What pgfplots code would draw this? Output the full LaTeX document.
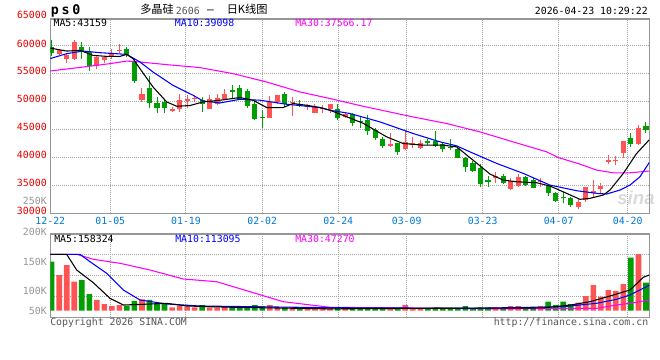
\documentclass[border=0pt]{standalone}
\usepackage{pgfplots}
\pgfplotsset{compat=1.18}
\usepackage{pgfplotstable}
\usepackage{fontspec}
\setmainfont{DejaVu Sans Mono}
\newfontfamily\cjk{Noto Sans CJK SC}
\newfontfamily\sinafont{Liberation Sans}
\definecolor{cred}{RGB}{255,84,84}
\definecolor{cgreen}{RGB}{0,158,0}
\definecolor{cblue}{RGB}{0,0,255}
\definecolor{cmag}{RGB}{255,0,255}
\definecolor{framegray}{RGB}{150,150,150}
\definecolor{dotgray}{RGB}{165,165,165}
\definecolor{lblred}{RGB}{232,0,0}
\definecolor{lblblue}{RGB}{0,120,215}
\definecolor{volgray}{RGB}{150,150,150}
\definecolor{txtgray}{RGB}{85,85,85}
\definecolor{wmgray}{RGB}{218,218,218}

% red (rising) candles: index open high low close
\pgfplotstableread{
i o h l c
1 58500 59400 58300 59200
2 57700 58600 56900 58300
3 57600 61000 57400 60700
6 56400 58200 55800 57900
7 57400 58200 56900 57900
8 58200 59400 57700 58700
9 59000 60300 58700 59300
12 50300 52400 49900 51300
16 48400 49100 48100 48600
17 48600 51300 48100 50200
18 50100 51100 48900 50500
19 50400 51100 50000 50600
21 48700 51100 48600 50400
22 49600 51400 49300 50700
23 50400 52200 50200 51300
29 47100 51000 47100 49900
30 49900 51100 49500 51100
32 49700 50800 47400 49800
34 49000 49600 48500 49300
35 48000 49600 47900 49000
36 48700 49300 47900 48900
37 48700 49500 47900 49500
39 47200 48000 47000 47700
45 42020 44290 41900 42320
47 41430 44750 41310 42790
48 42250 43680 41610 42500
49 41610 43090 41430 42610
59 36360 37430 35470 36720
61 34340 36360 34160 35770
62 34880 36970 34750 36540
65 35540 36250 34750 35820
70 31070 32500 30710 32070
71 32380 34640 32070 34640
72 33570 35950 32860 33980
73 34290 35360 33680 34880
74 39220 40410 38800 39520
75 39340 40230 38630 39520
76 40820 42910 39820 42910
78 42380 45770 42200 45180
}\redtab

% green (falling) candles: index open high low close
\pgfplotstableread{
i o h l c
0 59800 61100 58200 58700
4 59800 60700 57600 59000
5 58900 59800 55500 56400
10 59400 59800 57900 58300
11 57100 57700 53400 53600
13 52400 54600 48800 49700
14 49700 50900 47900 48900
15 49900 50500 48000 48900
20 50200 50800 48100 49600
24 52000 52900 50400 51700
25 52500 53000 50300 50400
26 51900 52300 48900 49200
27 49600 50200 46700 46900
28 47300 48500 45200 47000
31 51400 51800 49000 49500
33 49600 50200 49000 49300
38 48600 49500 46700 47000
40 47700 48000 45600 46200
41 46500 47300 45200 46300
42 46660 47560 43980 44750
43 45000 45180 43090 43400
44 43220 43680 41610 42020
46 42500 42600 40410 41000
50 42910 43220 42200 42610
51 42910 44750 41790 42020
52 42320 42790 41000 41430
53 41890 43220 41310 41610
54 41430 41790 39820 39930
55 39820 40110 37430 38320
56 38930 39340 37430 37550
57 38040 38750 34750 35180
58 35950 36720 34750 35640
60 36720 36970 35180 35360
63 36540 36720 34950 35050
64 35950 36250 34470 34570
66 34880 35050 33140 33680
67 33570 33860 32070 32200
68 32960 33860 31790 32680
69 32680 32860 31180 31480
77 43400 44290 41890 42380
79 45590 46360 44390 44880
}\greentab

\pgfplotstableread{
i v
1 158300
2 202700
3 128600
6 47300
7 29500
8 20600
9 25000
12 50400
16 14800
17 22100
18 17700
19 14800
21 14800
22 14800
23 20600
29 25000
30 14800
32 14800
34 10400
35 12000
36 10400
37 14800
39 12000
45 12000
47 25000
48 10400
49 10400
59 14800
61 20600
62 20600
65 20600
70 35300
71 65000
72 113900
73 61900
74 91700
75 87300
76 118300
78 251600
}\redvol

\pgfplotstableread{
i v
0 217400
4 136100
5 73900
10 22100
11 43000
13 47300
14 32600
15 29500
20 25000
24 14800
25 12000
26 20600
27 25000
28 20600
31 14800
33 10400
38 12000
40 12000
41 12000
42 12000
43 12000
44 12000
46 12000
50 10400
51 14800
52 10400
53 10400
54 10400
55 20600
56 10400
57 14800
58 14800
60 12000
63 14800
64 14800
66 39700
67 25000
68 39700
69 29500
77 235200
79 124100
}\greenvol

\pgfplotsset{
  wick/.style={color=#1, draw=none, mark=none, forget plot,
    error bars/.cd, y dir=plus, y explicit, error mark=none,
    error bar style={line width=0.75pt, draw=#1, solid}},
  body/.style={color=#1, draw=none, mark=none, forget plot,
    error bars/.cd, y dir=plus, y explicit, error mark=none,
    error bar style={line width=3.8pt, draw=#1, solid}},
  panel/.style={
    scale only axis, width=449.25pt,
    xmin=-0.186, xmax=79.44,
    axis line style={draw=framegray, line width=0.9pt},
    major tick length=0pt,
    scaled ticks=false,
    xmajorgrids, ymajorgrids,
    major grid style={draw=dotgray, line width=0.75pt, dash pattern=on 0.75pt off 0.75pt},
  },
}

\begin{document}
\begin{tikzpicture}
\path[use as bounding box] (0pt,0pt) rectangle (495pt,-270pt);
\begin{scope}[x=0.75pt,y=-0.75pt]
  \node[text=wmgray, font=\sinafont\bfseries\itshape\fontsize{14}{14}\selectfont, inner sep=0pt] at (636,198) {sina};
\end{scope}

% ---------------- price panel ----------------
\begin{axis}[panel,
  at={(37.725pt,-14.25pt)}, anchor=north west,
  height=145.725pt,
  ymin=30000, ymax=64780,
  xtick={-0.186,7.79,17.85,27.99,38.10,47.19,57.29,67.39,76.57},
  xticklabels={12-22,01-05,01-19,02-02,02-24,03-09,03-23,04-07,04-20},
  ytick={30000,35000,40000,45000,50000,55000,60000},
  yticklabels={30000,35000,40000,45000,50000,55000,60000},
  tick label style={font=\fontsize{7.4}{8}\selectfont, inner sep=0pt},
  xticklabel style={text=lblblue, anchor=north, yshift=-2.55pt},
  yticklabel style={text=lblred, anchor=base east, xshift=-2.5pt, yshift=-1pt},
]
\addplot[wick=cred] table[x=i, y=l, y error expr=\thisrow{h}-\thisrow{l}] {\redtab};
\addplot[body=cred] table[x=i, y=o, y error expr={max(\thisrow{c}-\thisrow{o},200)}] {\redtab};
\addplot[wick=cgreen] table[x=i, y=l, y error expr=\thisrow{h}-\thisrow{l}] {\greentab};
\addplot[body=cgreen] table[x=i, y=c, y error expr={max(\thisrow{o}-\thisrow{c},200)}] {\greentab};

% MA30
\addplot[cmag, line width=0.8pt, forget plot] coordinates {
(-0.23,55470) (4.16,56180) (7.75,56790) (9.97,57250) (11.74,57080) (15.29,56610)
(19.71,56080) (24.1,55000) (28.58,53500) (33.0,51720) (37.0,50540) (41.38,49160)
(48.03,47250) (52.51,46070) (56.93,44570) (61.32,42790) (65.8,41000) (67.3,40000)
(70.23,38800) (72.44,37730) (74.65,37250) (76.87,37250) (79.44,37566)};
% MA10
\addplot[cblue, line width=0.8pt, forget plot] coordinates {
(-0.23,57680) (1.99,58580) (4.16,59040) (6.42,58750) (9.97,58450) (11.74,57080)
(13.47,55290) (16.12,52910) (18.78,51130) (20.11,50110) (22.37,49750) (25.03,50410)
(27.69,50240) (31.24,49520) (35.66,48930) (37.0,48450) (39.65,47860) (43.64,46360)
(48.03,44290) (51.62,42790) (53.84,42070) (55.6,41000) (59.15,38930) (62.69,37140)
(66.24,35050) (69.79,34040) (72.44,33570) (73.77,33450) (75.54,34160) (76.87,35050)
(78.2,36540) (79.44,39098)};
% MA5
\addplot[black, line width=0.8pt, forget plot] coordinates {
(-0.23,59580) (1.99,59040) (3.76,59170) (5.49,58270) (7.31,58090) (9.08,58090)
(9.97,58450) (10.81,57680) (12.14,55110) (13.47,52610) (15.29,49930) (16.62,49160)
(18.38,49290) (20.11,49930) (22.37,50240) (25.03,50720) (26.76,50240) (28.58,48930)
(30.75,48930) (32.07,49650) (33.90,49340) (35.66,48930) (37.0,48450) (41.38,46130)
(44.53,43680) (46.70,42500) (49.35,42200) (52.01,42200) (53.84,41890) (56.0,39520)
(58.27,37020) (60.0,35950) (61.81,35640) (64.47,35470) (66.24,34880) (67.97,33860)
(70.23,32500) (71.56,32680) (73.32,33270) (74.21,34160) (75.98,37140) (77.76,40720)
(79.44,43160)};
\end{axis}

% ---------------- volume panel ----------------
\begin{axis}[panel,
  at={(37.725pt,-175.5pt)}, anchor=north west,
  height=62.475pt,
  ymin=-29573, ymax=340446,
  xtick={7.79,17.85,27.99,38.10,47.19,57.29,67.39,76.57},
  ytick={62932,155437,247941},
  xticklabel=\empty, yticklabel=\empty,
]
\addplot[ybar, bar width=4.2pt, bar shift=0pt, fill=cred, draw=none, forget plot] table[x=i, y=v] {\redvol};
\addplot[ybar, bar width=4.2pt, bar shift=0pt, fill=cgreen, draw=none, forget plot] table[x=i, y=v] {\greenvol};
\addplot[cmag, line width=0.8pt, forget plot] coordinates {
(-0.23,250270) (3.32,250270) (5.53,228060) (9.08,210300) (13.07,180530) (17.49,140560)
(21.93,128560) (26.35,84140) (30.78,39720) (37.0,14850) (59.6,8200) (72.44,10400)
(75.1,25060) (76.87,32610) (79.44,47270)};
\addplot[cblue, line width=0.8pt, forget plot] coordinates {
(-0.23,250270) (3.76,250270) (5.09,217400) (7.31,165870) (9.52,91700) (11.74,47270)
(15.29,29500) (19.71,20620) (37.0,13070) (56,10400) (67.97,17510) (72.44,32610)
(75.1,50380) (76.87,69480) (79.44,113095)};
\addplot[black, line width=0.8pt, forget plot] coordinates {
(-0.23,250270) (1.99,250270) (3.32,180530) (5.53,124120) (7.75,54830) (9.52,25060)
(12.18,28170) (15.29,32610) (17.95,20620) (24.1,14850) (37.0,8000) (50,10400)
(65.3,12000) (69.0,25060) (71.56,39700) (74.21,65040) (76.87,91700) (78.64,148100)
(79.44,158324)};
\end{axis}

% ---------------- texts ----------------
\begin{scope}[x=0.75pt,y=-0.75pt, every node/.style={inner sep=0pt, font=\fontsize{7.4}{8}\selectfont}]
  \node[anchor=base west, font=\bfseries\fontsize{10}{11}\selectfont] at (50.7,15) {p\kern2pt s\kern2pt 0};
  \node[anchor=base west, font=\cjk\fontsize{8.4}{9}\selectfont] at (140,13.8) {多晶硅};
  \node[anchor=base west, text=txtgray] at (175.7,14.2) {2606};
  \node[anchor=base, font=\fontsize{8.4}{9}\selectfont] at (210.5,14) {–};
  \node[anchor=base west, font=\cjk\fontsize{8.4}{9}\selectfont] at (226.5,13.8) {日K线图};
  \node[anchor=base east] at (648,15) {2026-04-23 10:29:22};
  \node[anchor=base east, text=lblred] at (47,18.3) {65000};
  \node[anchor=base west] at (53.3,27) {MA5:43159};
  \node[anchor=base west, text=cblue] at (174.7,27) {MA10:39098};
  \node[anchor=base west, text=cmag] at (295,27) {MA30:37566.17};
  \node[anchor=base west] at (54,242.3) {MA5:158324};
  \node[anchor=base west, text=cblue] at (175,242.3) {MA10:113095};
  \node[anchor=base west, text=cmag] at (295,242.3) {MA30:47270};
  \node[anchor=base east, text=volgray] at (47,204) {250K};
  \node[anchor=base east, text=volgray] at (47,235) {200K};
  \node[anchor=base east, text=volgray] at (47,265) {150K};
  \node[anchor=base east, text=volgray] at (47,294) {100K};
  \node[anchor=base east, text=volgray] at (47,314) {50K};
  \node[anchor=base west, text=txtgray] at (50,325.5) {Copyright 2026 SINA.COM};
  \node[anchor=base east, text=txtgray] at (648.5,325.5) {http://finance.sina.com.cn};
\end{scope}
\end{tikzpicture}
\end{document}
